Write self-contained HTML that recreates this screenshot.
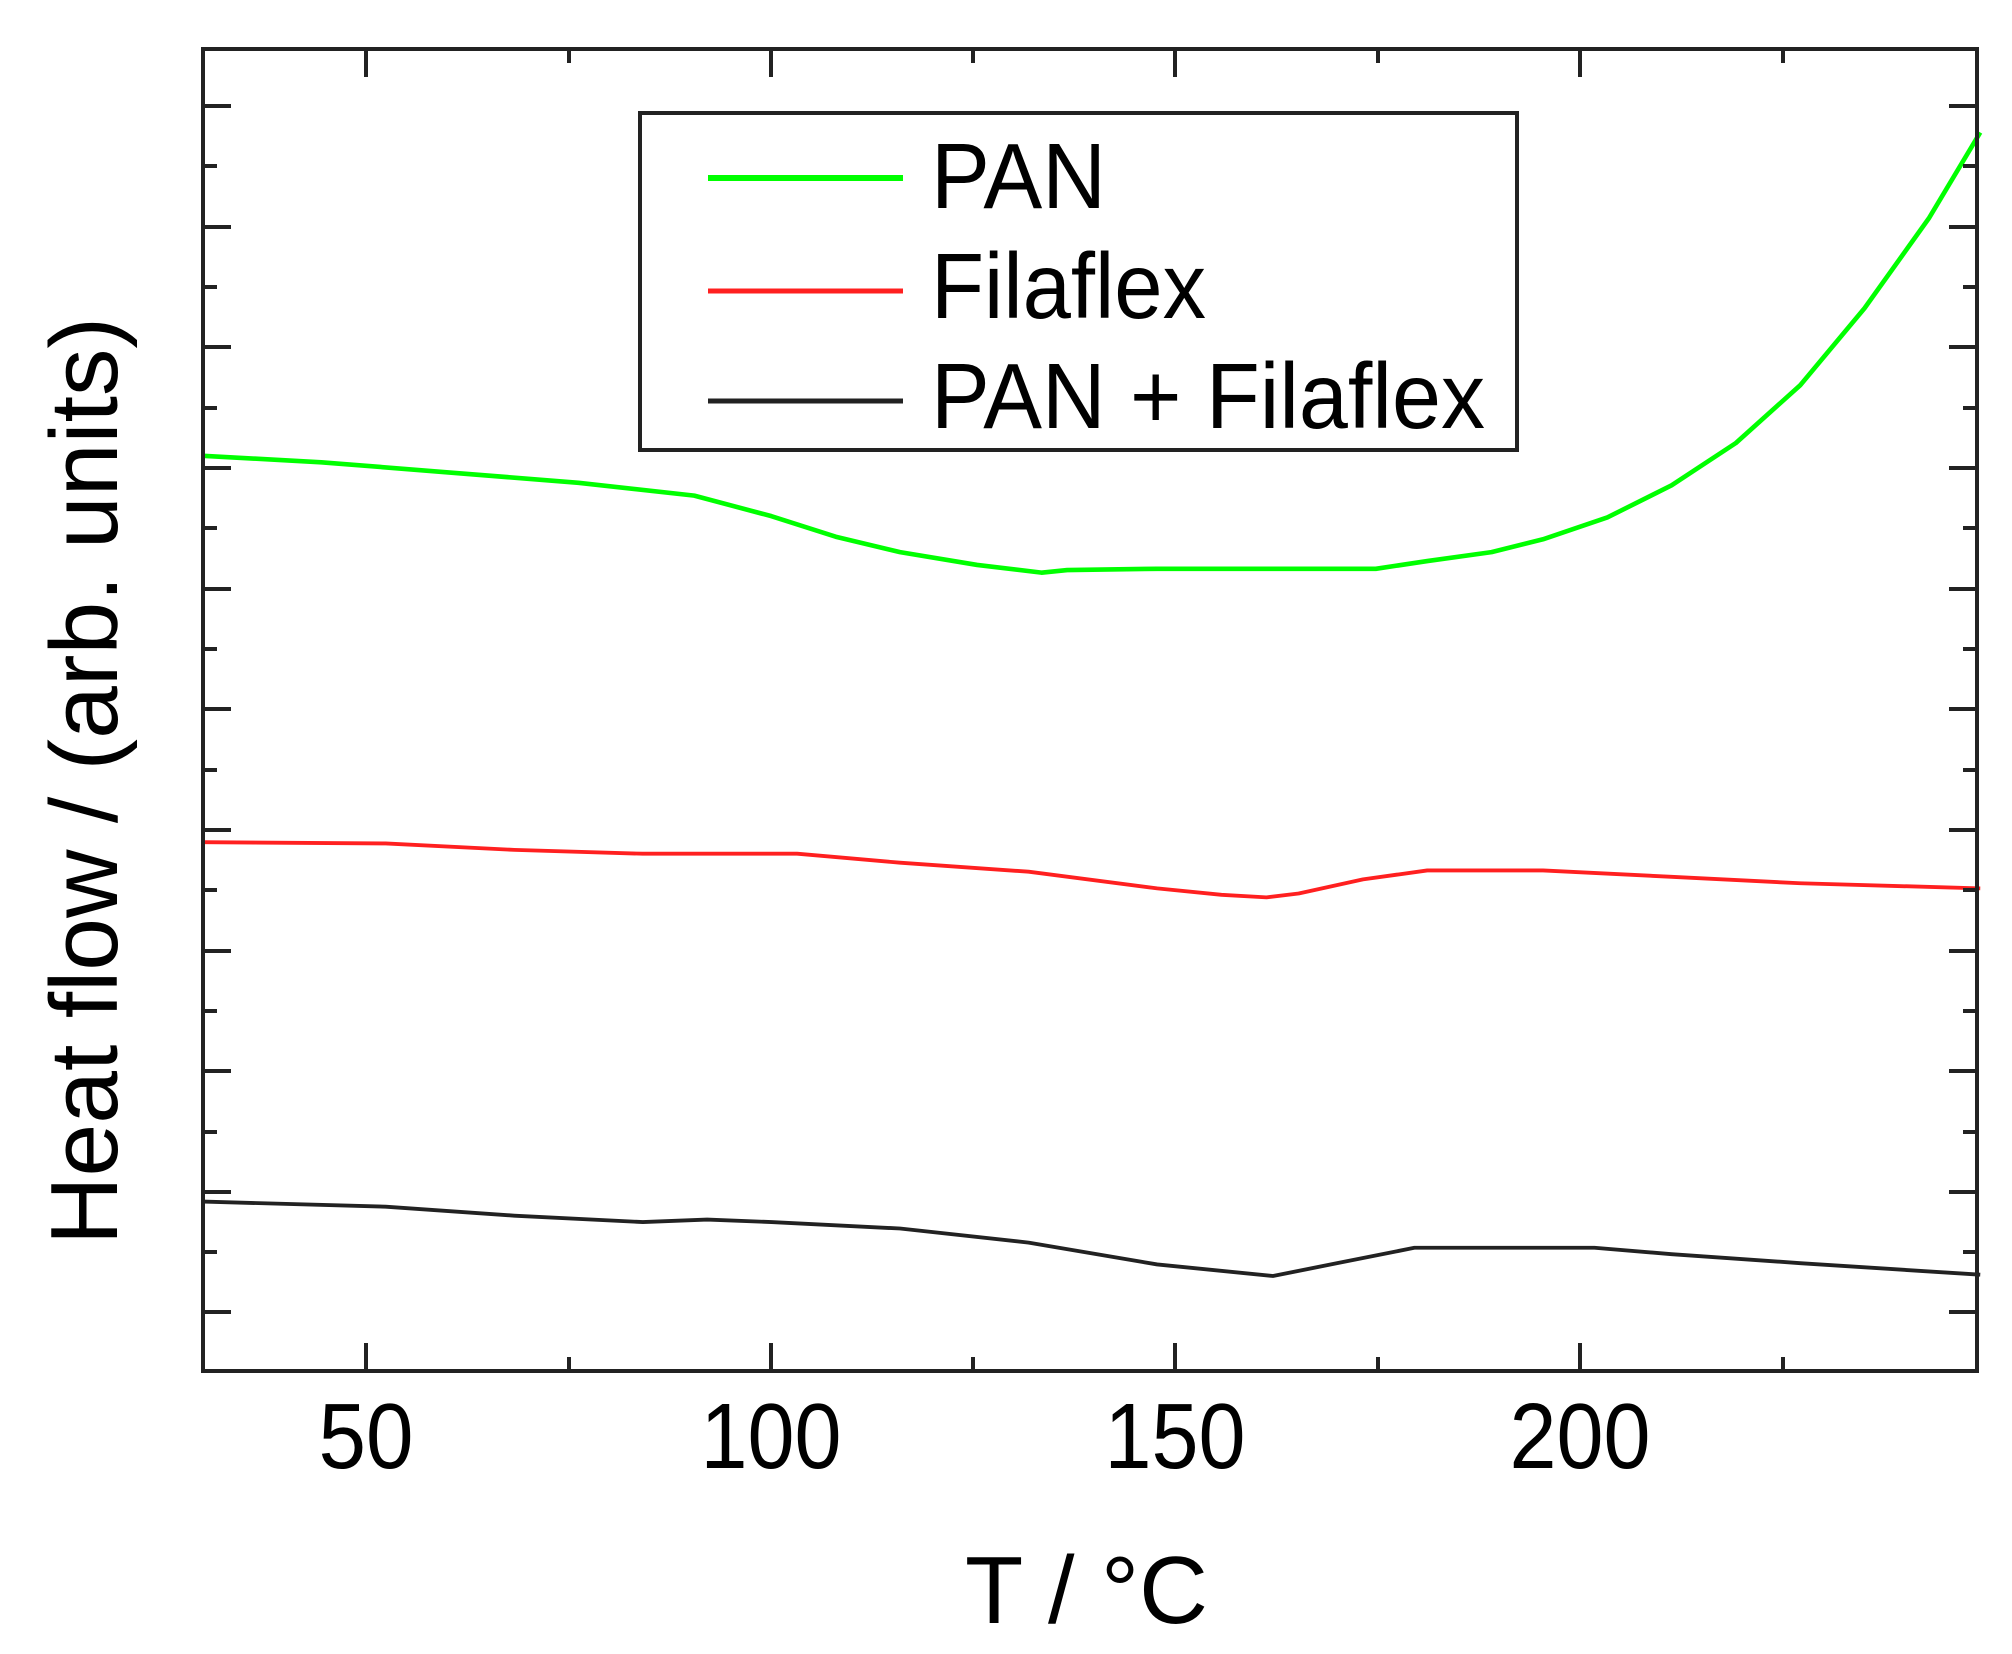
<!DOCTYPE html>
<html><head><meta charset="utf-8"><style>html,body{margin:0;padding:0;background:#fff}svg{display:block}</style></head>
<body>
<svg width="2012" height="1654" viewBox="0 0 2012 1654" xmlns="http://www.w3.org/2000/svg" font-family="Liberation Sans, Arial, sans-serif">
<rect width="2012" height="1654" fill="#fff"/>
<g transform="translate(-0.2,0.2) scale(1.286,1.2835)" fill="none" stroke-linejoin="round">
<path stroke="#00ff00" stroke-width="3.6" d="M158,355 L250,360 L350,368 L450,376 L540,386 L600,402 L650,418 L700,430 L760,440 L810,446 L830,444 L900,443 L1000,443 L1070,443 L1110,437 L1160,430 L1200,420 L1250,403 L1300,378 L1350,345 L1400,300 L1450,240 L1500,170 L1540,103"/>
<path stroke="#ff2020" stroke-width="3" d="M158,656 L300,657 L400,662 L500,665 L620,665 L700,672 L800,679 L900,692 L950,697 L985,699 L1010,696 L1060,685 L1110,678 L1200,678 L1300,683 L1400,688 L1540,692"/>
<path stroke="#222" stroke-width="3" d="M158,936 L300,940 L400,947 L500,952 L550,950 L600,952 L700,957 L800,968 L900,985 L990,994 L1040,984 L1100,972 L1240,972 L1300,977 L1400,984 L1540,993"/>
</g>
<g stroke="#222" stroke-width="4" fill="none">
<rect x="203" y="49" width="1774" height="1322"/>
</g>
<g stroke="#222" stroke-width="4">
<line x1="366" y1="1371" x2="366" y2="1343"/><line x1="366" y1="49" x2="366" y2="77"/>
<line x1="569" y1="1371" x2="569" y2="1357"/><line x1="569" y1="49" x2="569" y2="63"/>
<line x1="771" y1="1371" x2="771" y2="1343"/><line x1="771" y1="49" x2="771" y2="77"/>
<line x1="973" y1="1371" x2="973" y2="1357"/><line x1="973" y1="49" x2="973" y2="63"/>
<line x1="1175" y1="1371" x2="1175" y2="1343"/><line x1="1175" y1="49" x2="1175" y2="77"/>
<line x1="1378" y1="1371" x2="1378" y2="1357"/><line x1="1378" y1="49" x2="1378" y2="63"/>
<line x1="1580" y1="1371" x2="1580" y2="1343"/><line x1="1580" y1="49" x2="1580" y2="77"/>
<line x1="1783" y1="1371" x2="1783" y2="1357"/><line x1="1783" y1="49" x2="1783" y2="63"/>
<line x1="203" y1="106" x2="231" y2="106"/><line x1="1977" y1="106" x2="1949" y2="106"/>
<line x1="203" y1="166" x2="217" y2="166"/><line x1="1977" y1="166" x2="1963" y2="166"/>
<line x1="203" y1="227" x2="231" y2="227"/><line x1="1977" y1="227" x2="1949" y2="227"/>
<line x1="203" y1="287" x2="217" y2="287"/><line x1="1977" y1="287" x2="1963" y2="287"/>
<line x1="203" y1="347" x2="231" y2="347"/><line x1="1977" y1="347" x2="1949" y2="347"/>
<line x1="203" y1="408" x2="217" y2="408"/><line x1="1977" y1="408" x2="1963" y2="408"/>
<line x1="203" y1="468" x2="231" y2="468"/><line x1="1977" y1="468" x2="1949" y2="468"/>
<line x1="203" y1="528" x2="217" y2="528"/><line x1="1977" y1="528" x2="1963" y2="528"/>
<line x1="203" y1="589" x2="231" y2="589"/><line x1="1977" y1="589" x2="1949" y2="589"/>
<line x1="203" y1="649" x2="217" y2="649"/><line x1="1977" y1="649" x2="1963" y2="649"/>
<line x1="203" y1="709" x2="231" y2="709"/><line x1="1977" y1="709" x2="1949" y2="709"/>
<line x1="203" y1="770" x2="217" y2="770"/><line x1="1977" y1="770" x2="1963" y2="770"/>
<line x1="203" y1="830" x2="231" y2="830"/><line x1="1977" y1="830" x2="1949" y2="830"/>
<line x1="203" y1="890" x2="217" y2="890"/><line x1="1977" y1="890" x2="1963" y2="890"/>
<line x1="203" y1="951" x2="231" y2="951"/><line x1="1977" y1="951" x2="1949" y2="951"/>
<line x1="203" y1="1011" x2="217" y2="1011"/><line x1="1977" y1="1011" x2="1963" y2="1011"/>
<line x1="203" y1="1071" x2="231" y2="1071"/><line x1="1977" y1="1071" x2="1949" y2="1071"/>
<line x1="203" y1="1132" x2="217" y2="1132"/><line x1="1977" y1="1132" x2="1963" y2="1132"/>
<line x1="203" y1="1192" x2="231" y2="1192"/><line x1="1977" y1="1192" x2="1949" y2="1192"/>
<line x1="203" y1="1252" x2="217" y2="1252"/><line x1="1977" y1="1252" x2="1963" y2="1252"/>
<line x1="203" y1="1312" x2="231" y2="1312"/><line x1="1977" y1="1312" x2="1949" y2="1312"/>
</g>
<rect x="640" y="113" width="877" height="337" fill="#fff" stroke="#222" stroke-width="4"/>
<line x1="708" y1="178" x2="903" y2="178" stroke="#00ff00" stroke-width="6"/>
<line x1="708" y1="291" x2="903" y2="291" stroke="#ff2020" stroke-width="5"/>
<line x1="708" y1="401" x2="903" y2="401" stroke="#222" stroke-width="5"/>
<g fill="#000" font-size="93">
<text x="931" y="208" textLength="175" lengthAdjust="spacingAndGlyphs">PAN</text>
<text x="931" y="318" textLength="275" lengthAdjust="spacingAndGlyphs">Filaflex</text>
<text x="931" y="428" textLength="554" lengthAdjust="spacingAndGlyphs">PAN + Filaflex</text>
<text x="366" y="1468" text-anchor="middle" textLength="95" lengthAdjust="spacingAndGlyphs">50</text>
<text x="771" y="1468" text-anchor="middle" textLength="141" lengthAdjust="spacingAndGlyphs">100</text>
<text x="1175" y="1468" text-anchor="middle" textLength="141" lengthAdjust="spacingAndGlyphs">150</text>
<text x="1580" y="1468" text-anchor="middle" textLength="141" lengthAdjust="spacingAndGlyphs">200</text>
</g>
<text x="965" y="1623" font-size="96" textLength="243" lengthAdjust="spacingAndGlyphs">T / °C</text>
<text transform="translate(117,1245) rotate(-90)" x="0" y="0" font-size="96" textLength="928" lengthAdjust="spacingAndGlyphs">Heat flow / (arb. units)</text>
</svg>
</body></html>
